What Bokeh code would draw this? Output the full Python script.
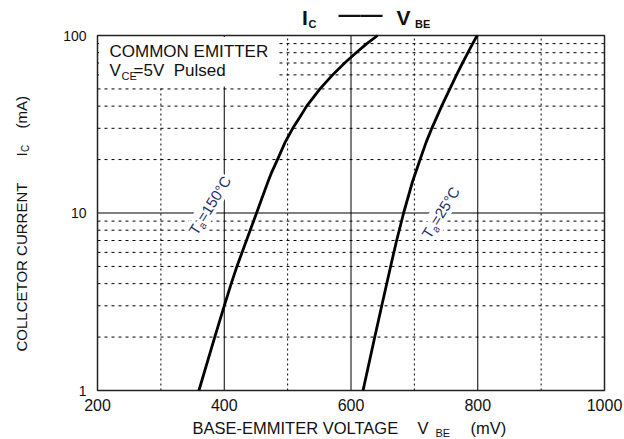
import math
from bokeh.plotting import figure
from bokeh.models import FixedTicker, Label, BoxAnnotation, Range1d, NumeralTickFormatter
from bokeh.embed import file_html
from bokeh.resources import INLINE

# ---- data ----
ic_150 = [1, 2, 3, 4, 5, 7, 10, 12, 15, 17, 20, 25, 30, 35, 40, 45, 50, 60, 70, 80, 90, 100]
vbe_150 = [360, 385, 400, 411, 420, 435, 451, 459, 469, 475, 484, 496, 508, 520, 530, 541,
           551, 571, 590, 608, 625, 642]
ic_25 = [1, 2, 3, 5, 7, 10, 15, 20, 25, 30, 40, 50, 60, 70, 80, 90, 100]
vbe_25 = [619, 637.5, 648.5, 662.5, 672, 683, 697, 709, 718.5, 727.5, 743, 756, 766.5, 776,
          784.5, 792, 799]
x_ticks = [200, 400, 600, 800, 1000]
x_minor = [300, 500, 700, 900]
y_ticks = [1, 10, 100]
y_minor = [2, 3, 4, 5, 6, 7, 8, 9, 20, 30, 40, 50, 60, 70, 80, 90]

FONT = "Liberation Sans"
W, H = 624, 439
# plot area (the axes box) inside the canvas, in pixels
PL, PR, PT, PB = 97, 604, 35, 390


def X(px):
    return x_ticks[0] + (px - PL) * (x_ticks[-1] - x_ticks[0]) / (PR - PL)


def Y(py):
    dec = math.log10(y_ticks[-1] / y_ticks[0])
    return y_ticks[0] * 10 ** ((PB - py) * dec / (PB - PT))


# the frame covers the whole canvas so that texts outside the axes box are not clipped
p = figure(width=W, height=H, x_range=Range1d(X(0), X(W)), y_range=Range1d(Y(H), Y(0)),
           y_axis_type="log", output_backend="svg", toolbar_location=None,
           min_border=0, min_border_left=0, min_border_right=0,
           min_border_top=0, min_border_bottom=0)
p.background_fill_color = "white"
p.border_fill_color = "white"
p.outline_line_color = None
p.xgrid.visible = False
p.ygrid.visible = False

# axes drawn at the edges of the axes box
p.xaxis.fixed_location = y_ticks[0]
p.yaxis.fixed_location = x_ticks[0]
p.xaxis.ticker = FixedTicker(ticks=x_ticks, minor_ticks=x_minor)
p.yaxis.ticker = FixedTicker(ticks=y_ticks, minor_ticks=y_minor)
p.yaxis.formatter = NumeralTickFormatter(format="0")
for ax in (p.xaxis[0], p.yaxis[0]):
    ax.axis_line_color = None
    ax.major_tick_line_color = None
    ax.minor_tick_line_color = None
    ax.major_label_text_font = FONT
    ax.major_label_text_color = "#111111"
p.xaxis.major_label_text_font_size = "16px"
p.yaxis.major_label_text_font_size = "14px"
p.xaxis.major_label_standoff = 2
p.yaxis.major_label_standoff = 5

# grid lines from the tick arrays
xin = [t for t in x_ticks if x_ticks[0] < t < x_ticks[-1]]
yin = [t for t in y_ticks if y_ticks[0] < t < y_ticks[-1]]
p.segment(x0=x_minor, y0=[y_ticks[0]] * len(x_minor), x1=x_minor, y1=[y_ticks[-1]] * len(x_minor),
          line_color="black", line_width=1, line_dash="2 3")
p.segment(x0=[x_ticks[0]] * len(y_minor), y0=y_minor, x1=[x_ticks[-1]] * len(y_minor), y1=y_minor,
          line_color="black", line_width=1, line_dash="3 4")
p.segment(x0=xin, y0=[y_ticks[0]] * len(xin), x1=xin, y1=[y_ticks[-1]] * len(xin),
          line_color="black", line_width=1)
p.segment(x0=[x_ticks[0]] * len(yin), y0=yin, x1=[x_ticks[-1]] * len(yin), y1=yin,
          line_color="black", line_width=1)

# mask behind the text box
p.add_layout(BoxAnnotation(left=X(98.5), right=X(277), bottom=Y(86), top=Y(36.5),
                           fill_color="white", fill_alpha=1.0, line_alpha=0.0))

# axes box outline
p.quad(left=x_ticks[0], right=x_ticks[-1], bottom=y_ticks[0], top=y_ticks[-1],
       fill_alpha=0, line_color="#222222", line_width=1.5)

# curves
p.line(vbe_150, ic_150, line_color="black", line_width=2.8, line_join="round")
p.line(vbe_25, ic_25, line_color="black", line_width=2.8, line_join="round")


def txt(px, py, text, size, color="#111111", bold=False, angle=0.0, bg=None):
    # place by baseline-left corner in canvas pixels (compensate the renderer's baseline offset)
    s = 0.36 * size
    px -= s * math.sin(angle)
    py -= s * math.cos(angle)
    kw = dict(x=px, y=py, x_units="canvas", y_units="canvas", text=text,
              text_font=FONT, text_font_size=f"{size}px", text_color=color,
              text_align="left", text_baseline="alphabetic", angle=angle,
              text_font_style="bold" if bold else "normal")
    if bg:
        kw["background_fill_color"] = bg
        kw["padding"] = 1
    p.add_layout(Label(**kw))


txt(109, 57, "COMMON EMITTER", 17)
txt(109, 76, "V", 17)
txt(121, 79, "CE", 11)
txt(133, 76, "=5V\u00a0 Pulsed", 17)

# title
txt(301.5, 25, "I", 21, bold=True)
txt(308, 27.5, "C", 11, bold=True)
txt(338, 22, "\u2014\u2014", 22, bold=True)
txt(396, 25, "V", 21, bold=True)
txt(414.5, 27.5, "BE", 11, bold=True)

# x axis title
txt(192, 433, "BASE-EMMITER VOLTAGE", 16.5)
txt(417, 433, "V", 16.5)
txt(435, 436.5, "BE", 11)
txt(470, 433, "(mV)", 16.5)

# y axis title (vertical)
va = math.pi / 2
txt(26, 351, "COLLCETOR CURRENT", 15, angle=va)
txt(26, 156, "I", 15, angle=va)
txt(29, 151.5, "C", 10, angle=va)
txt(26, 128, "(mA)", 15, angle=va)


# rotated temperature labels
def rotated(parts, cx, cy, deg, color="#1e2d66"):
    th = math.radians(deg)
    u = (math.cos(th), -math.sin(th))
    n = (math.sin(th), math.cos(th))
    total = sum(w for _, _, w, _ in parts)
    bx, by = cx + 5 * n[0], cy + 5 * n[1]
    sx, sy = bx - total / 2 * u[0], by - total / 2 * u[1]
    off = 0.0
    for text, size, w, dy in parts:
        px = sx + off * u[0] + dy * n[0]
        py = sy + off * u[1] + dy * n[1]
        txt(px, py, text, size, color=color, angle=th, bg="white")
        off += w


rotated([("T", 15, 9.2, 0), ("a", 11, 6.1, 3), ("=150\u00b0C", 15, 50.6, 0)],
        209, 206, 58)
rotated([("T", 15, 9.2, 0), ("a", 11, 6.1, 3), ("=25\u00b0C", 15, 42.3, 0)],
        440, 213, 58)

open("out.html", "w").write(file_html(p, INLINE))
